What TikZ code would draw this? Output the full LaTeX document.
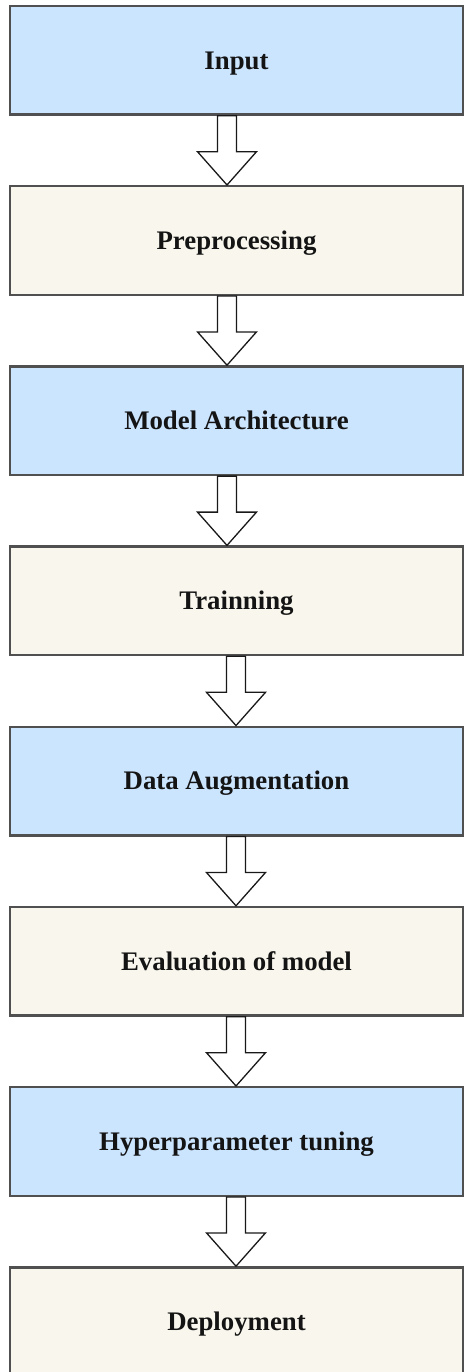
\documentclass[tikz,border=0pt]{standalone}
\usepackage{fontspec}
\setmainfont{Liberation Serif}
\usetikzlibrary{calc}

\definecolor{stepblue}{HTML}{CCE5FF}
\definecolor{stepcream}{HTML}{F9F7ED}
\definecolor{stepborder}{HTML}{505050}

\tikzset{
  stagebox/.style={draw=stepborder, line width=2.4pt, minimum width=453pt,
    minimum height=108.5pt, inner sep=0pt, text height=17.7pt, text depth=0pt,
    font=\fontsize{26.8pt}{30pt}\selectfont\bfseries, text=black!92},
  bluebox/.style={stagebox, fill=stepblue},
  creambox/.style={stagebox, fill=stepcream},
  blockarrow/.style={draw=black!90, line width=1.3pt, fill=white, line join=miter}
}

% hollow block arrow from the bottom of #1 to the top of #2, axis at x = #3 pt
\newcommand\flowarrow[3]{%
  \draw[blockarrow] let \p1=(#1.south), \p2=(#2.north) in
    ({#3pt-9.5pt},\y1) -- ({#3pt-9.5pt},{\y1-36pt}) -- ({#3pt-29.5pt},{\y1-36pt})
    -- (#3pt,\y2) -- ({#3pt+29.5pt},{\y1-36pt}) -- ({#3pt+9.5pt},{\y1-36pt})
    -- ({#3pt+9.5pt},\y1) -- cycle;}

\begin{document}
\begin{tikzpicture}[x=1pt, y=-1pt]
  \useasboundingbox (0,0) rectangle (464,1372);
  \clip (0,0) rectangle (464,1372);

  \node[bluebox]  (s1) at (236.5,  60.25) {Input};
  \node[creambox] (s2) at (236.5, 240.45) {Preprocessing};
  \node[bluebox]  (s3) at (236.5, 420.65) {Model Architecture};
  \node[creambox] (s4) at (236.5, 600.85) {Trainning};
  \node[bluebox]  (s5) at (236.5, 781.05) {Data Augmentation};
  \node[creambox] (s6) at (236.5, 961.25) {Evaluation of model};
  \node[bluebox]  (s7) at (236.5,1141.45) {Hyperparameter tuning};
  \node[creambox] (s8) at (236.5,1321.65) {Deployment};

  \flowarrow{s1}{s2}{227}
  \flowarrow{s2}{s3}{227}
  \flowarrow{s3}{s4}{227}
  \flowarrow{s4}{s5}{236}
  \flowarrow{s5}{s6}{236}
  \flowarrow{s6}{s7}{236}
  \flowarrow{s7}{s8}{236}
\end{tikzpicture}
\end{document}
